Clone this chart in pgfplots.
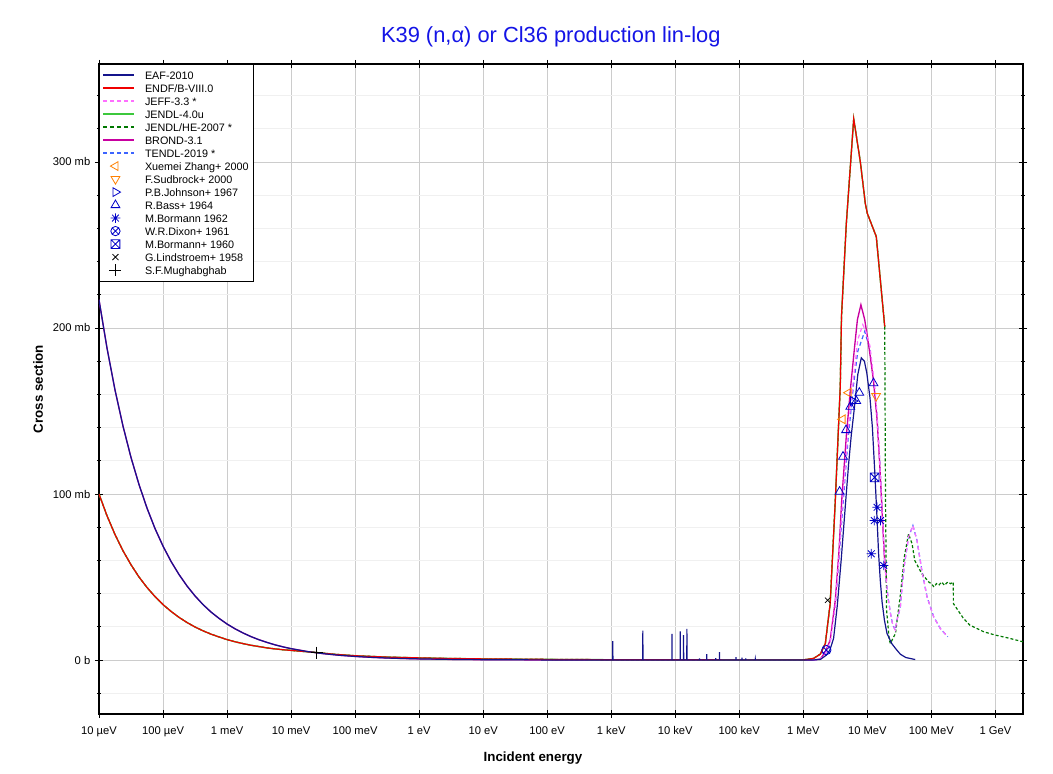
\documentclass[border=0pt]{standalone}
\usepackage{fontspec}
\setmainfont{Liberation Sans}
\usepackage{pgfplots}
\pgfplotsset{compat=1.18}

\definecolor{eafc}{RGB}{20,20,140}
\definecolor{endfc}{RGB}{240,0,0}
\definecolor{jeffc}{RGB}{255,110,255}
\definecolor{jendlc}{RGB}{60,200,60}
\definecolor{jhec}{RGB}{0,120,0}
\definecolor{brondc}{RGB}{200,0,160}
\definecolor{tendlc}{RGB}{60,100,255}
\definecolor{orangec}{RGB}{255,128,0}
\definecolor{bluem}{RGB}{0,0,200}
\definecolor{titlec}{RGB}{20,20,230}

\pgfdeclareplotmark{boxx}{%
  \pgfpathrectangle{\pgfqpoint{-\pgfplotmarksize}{-\pgfplotmarksize}}{\pgfqpoint{2\pgfplotmarksize}{2\pgfplotmarksize}}%
  \pgfpathmoveto{\pgfqpoint{-\pgfplotmarksize}{-\pgfplotmarksize}}%
  \pgfpathlineto{\pgfqpoint{\pgfplotmarksize}{\pgfplotmarksize}}%
  \pgfpathmoveto{\pgfqpoint{-\pgfplotmarksize}{\pgfplotmarksize}}%
  \pgfpathlineto{\pgfqpoint{\pgfplotmarksize}{-\pgfplotmarksize}}%
  \pgfusepathqstroke}
\pgfdeclareplotmark{star8}{%
  \pgfpathmoveto{\pgfqpoint{-\pgfplotmarksize}{0pt}}\pgfpathlineto{\pgfqpoint{\pgfplotmarksize}{0pt}}%
  \pgfpathmoveto{\pgfqpoint{0pt}{-\pgfplotmarksize}}\pgfpathlineto{\pgfqpoint{0pt}{\pgfplotmarksize}}%
  \pgfpathmoveto{\pgfqpoint{-0.707\pgfplotmarksize}{-0.707\pgfplotmarksize}}\pgfpathlineto{\pgfqpoint{0.707\pgfplotmarksize}{0.707\pgfplotmarksize}}%
  \pgfpathmoveto{\pgfqpoint{-0.707\pgfplotmarksize}{0.707\pgfplotmarksize}}\pgfpathlineto{\pgfqpoint{0.707\pgfplotmarksize}{-0.707\pgfplotmarksize}}%
  \pgfusepathqstroke}

% ENDF/B-VIII.0 (also JENDL-4.0u, JENDL/HE below 19 MeV)
\pgfplotstableread{
E s
1e-5 100
1.334e-5 86.9
1.778e-5 75.6
2.371e-5 65.8
3.162e-5 57.4
4.217e-5 50.0
5.623e-5 43.7
7.499e-5 38.2
1e-4 33.4
1.334e-4 29.3
1.778e-4 25.7
2.371e-4 22.6
3.162e-4 19.9
4.217e-4 17.6
5.623e-4 15.6
7.499e-4 13.9
1e-3 12.3
1.334e-3 11.0
1.778e-3 9.9
2.371e-3 8.9
3.162e-3 8.1
4.217e-3 7.3
5.623e-3 6.7
7.499e-3 6.2
1e-2 5.8
1.778e-2 5.0
2.53e-2 4.5
5e-2 3.4
0.1 2.6
0.3 1.8
1 1.3
3 0.95
10 0.7
100 0.4
1e3 0.2
1e4 0.15
1e5 0.1
1e6 0.1
1.45e6 1
1.85e6 3.6
2.21e6 10
2.63e6 34
3.16e6 96
3.78e6 165
3.95e6 207
4.7e6 263
6.13e6 326
7.78e6 300
9.3e6 275
1e7 269
1.38e7 255
1.87e7 200.8
}\endf

\pgfplotstableread{
E s
1.87e7 200.8
1.92e7 100
2.0e7 30
2.2e7 12
2.29e7 10
2.75e7 16
3.3e7 40
3.78e7 62
4.4e7 76
5.0e7 70
5.5e7 60
7.1e7 52
9.1e7 47
1.0e8 46
1.1e8 44
1.2e8 46
1.3e8 45
1.45e8 47
1.6e8 45
1.8e8 47
2.0e8 46
2.2e8 47
2.21e8 34
3.18e8 25
4e8 21
6.6e8 17
1e9 15
1.5e9 13.5
2.7e9 11
}\jhehigh

\pgfplotstableread{
E s
1e-5 217
1.334e-5 187.9
1.778e-5 162.7
2.371e-5 140.9
3.162e-5 122.0
4.217e-5 105.7
5.623e-5 91.5
7.499e-5 79.2
1e-4 68.6
1.334e-4 59.4
1.778e-4 51.5
2.371e-4 44.6
3.162e-4 38.6
4.217e-4 33.4
5.623e-4 28.9
7.499e-4 25.1
1e-3 21.7
1.334e-3 18.8
1.778e-3 16.3
2.371e-3 14.1
3.162e-3 12.2
4.217e-3 10.6
5.623e-3 9.15
7.499e-3 7.92
1e-2 6.86
1.778e-2 5.15
3.162e-2 3.86
5.623e-2 2.89
0.1 2.17
0.178 1.63
0.316 1.22
0.562 0.92
1 0.69
3.16 0.39
10 0.22
100 0.07
1000 0.02
1057 0
1060 11.4
1063 0
3110 0
3120 17.7
3130 0
8860 0
8880 15.7
8900 0
11970 0
12000 17.3
12030 0
13460 0
13500 15.0
13540 0
15160 0
15200 18.7
15240 0
23900 0
24000 1.0
24100 0
30900 0
31000 3.6
31100 0
42900 0
43000 1.2
43100 0
48850 0
49000 4.8
49150 0
88700 0
89000 1.8
89300 0
109700 0
110000 1.4
110300 0
125600 0
126000 1.0
126400 0
177500 0
178000 0.4
178500 0
1e6 0
1.4e6 0
1.85e6 0.4
2.3e6 3
2.6e6 6
2.97e6 13
3.4e6 33
3.9e6 60
4.6e6 96
5.1e6 118
5.6e6 135
6.2e6 150
7.1e6 172
8.05e6 182
9e6 180
9.8e6 173
11e6 158
12e6 140
13e6 115
14e6 90
15e6 64
16e6 47
17e6 35
18.5e6 24
20.3e6 16
24e6 10
27.5e6 7
32.8e6 3.5
40e6 1.5
56e6 0.3
}\eaf

\pgfplotstableread{
E s
1e-5 217
1.334e-5 187.9
1.778e-5 162.7
2.371e-5 140.9
3.162e-5 122.0
4.217e-5 105.7
5.623e-5 91.5
7.499e-5 79.2
1e-4 68.6
1.334e-4 59.4
1.778e-4 51.5
2.371e-4 44.6
3.162e-4 38.6
4.217e-4 33.4
5.623e-4 28.9
7.499e-4 25.1
1e-3 21.7
1.334e-3 18.8
1.778e-3 16.3
2.371e-3 14.1
3.162e-3 12.2
4.217e-3 10.6
5.623e-3 9.15
7.499e-3 7.92
1e-2 6.86
1.778e-2 5.15
3.162e-2 3.86
5.623e-2 2.89
0.1 2.17
0.178 1.63
0.316 1.22
0.562 0.92
1 0.69
3.16 0.39
10 0.22
100 0.07
1000 0.02
1e6 0
1.4e6 0
1.85e6 0.6
2.21e6 5
2.63e6 12
3.16e6 36
3.6e6 65
3.98e6 96
4.7e6 135
5.5e6 165
6.3e6 188
7e6 205
7.94e6 214
9.1e6 205
10e6 195
11.1e6 183
12.5e6 168
14.2e6 145
15.5e6 120
16.5e6 100
17.5e6 80
18.5e6 62
19.5e6 52
2e7 48
}\brond

\pgfplotstableread{
E s
1.4e6 0
1.85e6 0.5
2.21e6 4
2.63e6 11
3.16e6 33
3.6e6 62
4.05e6 92
5e6 138
6.1e6 170
7.1e6 193
8.5e6 202
9.5e6 198
11e6 189
13.2e6 163
14.2e6 148
15.5e6 122
16.5e6 100
17.5e6 80
18.5e6 62
19.5e6 50
21e6 38
23e6 28
25e6 21
27.3e6 18
29e6 24
32.8e6 32
35e6 45
37.8e6 57
44e6 74
51.5e6 81
59.7e6 72
71e6 54
85.7e6 38
108.7e6 26
138e6 19
180e6 14
}\jeff

\pgfplotstableread{
E s
1.4e6 0
1.85e6 0.5
2.21e6 4
2.63e6 11
3.16e6 33
3.6e6 60
4.1e6 90
5e6 133
6.1e6 166
7.1e6 186
9.1e6 198
11e6 187
13.2e6 160
14.2e6 147
15.5e6 122
16.5e6 100
17.5e6 80
18.5e6 62
19.5e6 50
21e6 38
23e6 28
25e6 21
27.3e6 18
29e6 24
32.8e6 32
35e6 45
37.8e6 57
44e6 74
51.5e6 81
59.7e6 72
71e6 54
85.7e6 38
108.7e6 26
138e6 19
180e6 14
}\tendl

\begin{document}
\begin{tikzpicture}
\begin{axis}[
  at={(0,0)}, anchor=south west,
  scale only axis,
  width=693pt, height=487.5pt,
  xmode=log,
  xmin=1e-5, xmax=2.7e9,
  ymin=-32.5, ymax=359,
  xtick={1e-5,1e-4,1e-3,1e-2,1e-1,1,10,100,1e3,1e4,1e5,1e6,1e7,1e8,1e9},
  xticklabels={10 µeV,100 µeV,1 meV,10 meV,100 meV,1 eV,10 eV,100 eV,1 keV,10 keV,100 keV,1 MeV,10 MeV,100 MeV,1 GeV},
  ytick={0,100,200,300},
  yticklabels={0 b,100 mb,200 mb,300 mb},
  minor ytick={-20,0,...,340},
  xminorticks=false,
  grid=both,
  xminorgrids=false,
  major grid style={draw=black!20, line width=0.6pt},
  minor grid style={draw=black!6, line width=0.6pt},
  tick align=center,
  major tick length=6pt,
  minor tick length=3pt,
  tick style={black, line width=0.6pt},
  axis line style={line width=1pt},
  tick label style={font=\fontsize{8.4}{10}\selectfont},
  xticklabel style={yshift=-3pt},
  xlabel={Incident energy},
  ylabel={Cross section},
  label style={font=\bfseries\fontsize{10}{12}\selectfont},
  xlabel style={at={(axis description cs:0.4697,-0.0677)}, anchor=center},
  ylabel style={at={(axis description cs:-0.066,0.5)}, anchor=center},
  title={K39 (n,α) or Cl36 production lin-log},
  title style={at={(axis description cs:0.489,1.029)}, anchor=center, font=\fontsize{16.4}{19}\selectfont, text=titlec},
  legend style={at={(0,1)}, anchor=north west, draw=black, line width=0.5pt,
    font=\fontsize{8.1}{9.75}\selectfont, inner xsep=2.5pt, inner ysep=3.2pt,
    nodes={inner ysep=1pt, inner xsep=1pt, text height=7.3pt, text depth=0.45pt},
    /tikz/every odd column/.append style={column sep=7pt}},
  legend cell align=left,
  legend image code/.code={\draw[#1] (0cm,0cm) -- (0.8cm,0cm);},
]
% legend images
\addlegendimage{eafc, line width=1pt}
\addlegendentry{EAF-2010}
\addlegendimage{endfc, line width=1pt}
\addlegendentry{ENDF/B-VIII.0}
\addlegendimage{jeffc, line width=1pt, dash pattern=on 3pt off 2.2pt}
\addlegendentry{JEFF-3.3 *}
\addlegendimage{jendlc, line width=1pt}
\addlegendentry{JENDL-4.0u}
\addlegendimage{jhec, line width=1pt, dash pattern=on 3pt off 2.2pt}
\addlegendentry{JENDL/HE-2007 *}
\addlegendimage{brondc, line width=1pt}
\addlegendentry{BROND-3.1}
\addlegendimage{tendlc, line width=1pt, dash pattern=on 3pt off 2.2pt}
\addlegendentry{TENDL-2019 *}
\addlegendimage{legend image code/.code={\draw[orangec, line width=0.6pt, mark=triangle, mark size=3.8pt, mark options={rotate=90}] plot coordinates {(0.32cm,0cm)};}}
\addlegendentry{Xuemei Zhang+ 2000}
\addlegendimage{legend image code/.code={\draw[orangec, line width=0.6pt, mark=triangle, mark size=3.8pt, mark options={rotate=180}] plot coordinates {(0.32cm,0cm)};}}
\addlegendentry{F.Sudbrock+ 2000}
\addlegendimage{legend image code/.code={\draw[bluem, line width=0.6pt, mark=triangle, mark size=3.8pt, mark options={rotate=-90}] plot coordinates {(0.32cm,0cm)};}}
\addlegendentry{P.B.Johnson+ 1967}
\addlegendimage{legend image code/.code={\draw[bluem, line width=0.6pt, mark=triangle, mark size=3.8pt] plot coordinates {(0.32cm,0cm)};}}
\addlegendentry{R.Bass+ 1964}
\addlegendimage{legend image code/.code={\draw[bluem, line width=0.6pt, mark=star8, mark size=3.6pt] plot coordinates {(0.32cm,0cm)};}}
\addlegendentry{M.Bormann 1962}
\addlegendimage{legend image code/.code={\draw[bluem, line width=0.6pt, mark=otimes, mark size=3.5pt] plot coordinates {(0.32cm,0cm)};}}
\addlegendentry{W.R.Dixon+ 1961}
\addlegendimage{legend image code/.code={\draw[bluem, line width=0.6pt, mark=boxx, mark size=3.3pt] plot coordinates {(0.32cm,0cm)};}}
\addlegendentry{M.Bormann+ 1960}
\addlegendimage{legend image code/.code={\draw[black, line width=0.6pt, mark=x, mark size=3.2pt] plot coordinates {(0.32cm,0cm)};}}
\addlegendentry{G.Lindstroem+ 1958}
\addlegendimage{legend image code/.code={\draw[black, line width=0.6pt, mark=+, mark size=4.5pt] plot coordinates {(0.32cm,0cm)};}}
\addlegendentry{S.F.Mughabghab}

% curves (drawn in reverse order so that EAF and ENDF lie on top)
\addplot[forget plot, tendlc, line width=0.9pt, dash pattern=on 3pt off 2.2pt] table[x=E,y=s] {\tendl};
\addplot[forget plot, brondc, line width=1pt] table[x=E,y=s] {\brond};
\addplot[forget plot, jhec, line width=0.9pt, dash pattern=on 2.2pt off 1.6pt] table[x=E,y=s] {\jhehigh};
\addplot[forget plot, jhec, line width=0.9pt, dash pattern=on 2.2pt off 1.6pt] table[x=E,y=s] {\endf};
\addplot[forget plot, jendlc, line width=1pt] table[x=E,y=s] {\endf};
\addplot[forget plot, jeffc, line width=0.9pt, dash pattern=on 3pt off 2.2pt] table[x=E,y=s] {\jeff};
\addplot[forget plot, endfc, line width=0.9pt] table[x=E,y=s] {\endf};
\addplot[forget plot, eafc, line width=0.9pt] table[x=E,y=s] {\eaf};

% experimental data
\addplot[forget plot, only marks, orangec, line width=0.6pt, mark=triangle, mark size=3.8pt, mark options={rotate=90}] coordinates {(4.11e6,145) (5.1e6,161)};
\addplot[forget plot, only marks, orangec, line width=0.6pt, mark=triangle, mark size=3.8pt, mark options={rotate=180}] coordinates {(1.37e7,159)};
\addplot[forget plot, only marks, bluem, line width=0.6pt, mark=triangle, mark size=3.8pt, mark options={rotate=-90}] coordinates {(5.98e6,156)};
\addplot[forget plot, only marks, bluem, line width=0.6pt, mark=triangle, mark size=3.8pt] coordinates {(3.69e6,101.4) (4.17e6,122.5) (4.65e6,138.5) (5.42e6,152.6) (6.73e6,156) (7.5e6,161) (1.25e7,166.7)};
\addplot[forget plot, only marks, bluem, line width=0.6pt, mark=star8, mark size=3.6pt] coordinates {(1.155e7,64) (1.285e7,84) (1.42e7,92) (1.6e7,84) (1.8e7,57)};
\addplot[forget plot, only marks, bluem, line width=0.6pt, mark=otimes, mark size=3.5pt] coordinates {(2.29e6,6)};
\addplot[forget plot, only marks, bluem, line width=0.6pt, mark=boxx, mark size=3.3pt] coordinates {(1.3e7,110)};
\addplot[forget plot, only marks, black, line width=0.6pt, mark=x, mark size=2.8pt] coordinates {(2.4e6,36)};
\addplot[forget plot, only marks, black, line width=0.6pt, mark=+, mark size=4.5pt] coordinates {(0.0253,4.4)};
\end{axis}
\pgfresetboundingbox
\path[use as bounding box] (-74.25pt,-45pt) rectangle (715.5pt,535.5pt);
\end{tikzpicture}
\end{document}
